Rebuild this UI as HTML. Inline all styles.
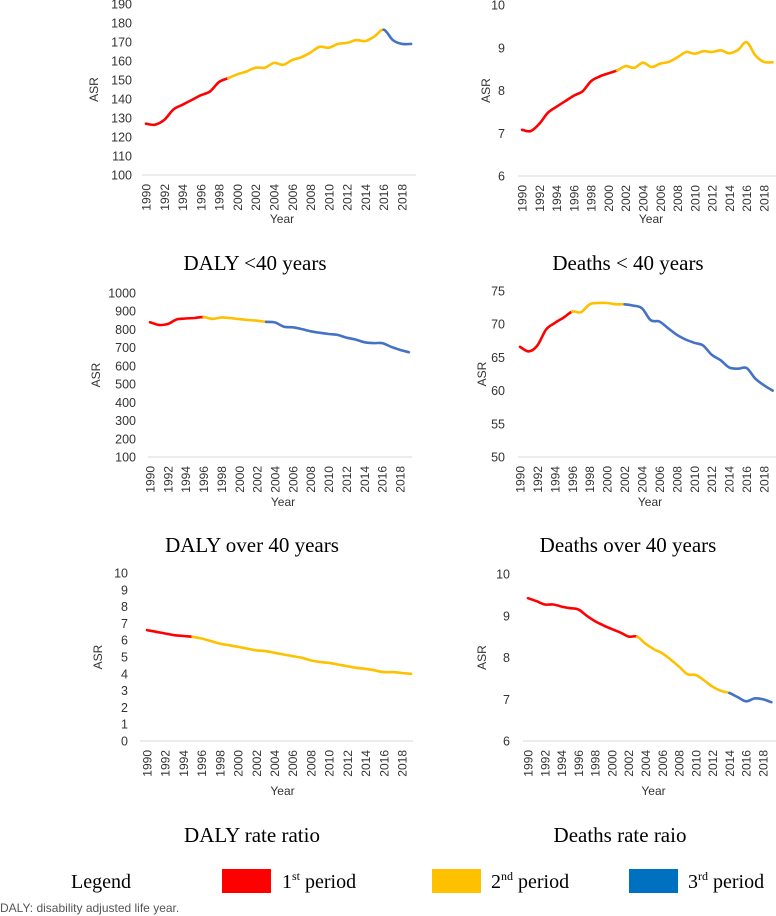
<!DOCTYPE html>
<html><head><meta charset="utf-8"><style>
html,body{margin:0;padding:0;background:#fff;width:776px;height:916px;overflow:hidden}
svg{display:block}
</style></head><body>
<svg id="fig" width="776" height="916" viewBox="0 0 776 916" xmlns="http://www.w3.org/2000/svg" font-family="Liberation Sans, sans-serif">
<g id="panels"></g>
<g font-family="Liberation Serif, serif" font-size="20" fill="#000">
<text x="71" y="888">Legend</text>
<rect x="222" y="869" width="49" height="24" fill="#ff0000"/>
<text x="282" y="888">1<tspan font-size="12" dy="-8">st</tspan><tspan dy="8"> period</tspan></text>
<rect x="432" y="869" width="49" height="24" fill="#ffc000"/>
<text x="491" y="888">2<tspan font-size="12" dy="-8">nd</tspan><tspan dy="8"> period</tspan></text>
<rect x="629" y="869" width="49" height="24" fill="#0070c0"/>
<text x="688" y="888">3<tspan font-size="12" dy="-8">rd</tspan><tspan dy="8"> period</tspan></text>
</g>
<text x="0" y="912" font-size="12" fill="#555">DALY: disability adjusted life year.</text>
</svg>
<script>
const years=[1990,1991,1992,1993,1994,1995,1996,1997,1998,1999,2000,2001,2002,2003,2004,2005,2006,2007,2008,2009,2010,2011,2012,2013,2014,2015,2016,2017,2018,2019];
const tickYears=[1990,1992,1994,1996,1998,2000,2002,2004,2006,2008,2010,2012,2014,2016,2018];
const dalyU40=[127,126.5,129,134.5,137,139.5,142,144,149,151,153,154.5,156.5,156.5,159,158,160.5,162,164.5,167.5,167,169,169.5,171,170.5,173,176.5,171,169,169];
const dalyU40Ticks=[100,110,120,130,140,150,160,170,180,190];
const dalyU40Breaks=[1999,2016];
const deathsU40=[7.08,7.05,7.22,7.48,7.62,7.75,7.88,7.98,8.22,8.33,8.4,8.47,8.57,8.53,8.65,8.55,8.63,8.67,8.78,8.9,8.86,8.92,8.9,8.94,8.87,8.95,9.13,8.82,8.67,8.66];
const deathsU40Ticks=[6,7,8,9,10];
const deathsU40Breaks=[2001];
const dalyO40=[840,825,830,855,860,863,868,858,866,862,857,852,848,842,838,815,812,802,790,782,775,770,755,745,730,725,725,705,688,675];
const dalyO40Ticks=[100,200,300,400,500,600,700,800,900,1000];
const dalyO40Breaks=[1996,2003];
const deathsO40=[66.6,65.9,66.8,69.2,70.2,71.0,71.9,71.8,73.0,73.2,73.2,73.0,73.0,72.8,72.4,70.6,70.4,69.4,68.4,67.7,67.2,66.8,65.4,64.6,63.5,63.3,63.4,61.8,60.8,60.0];
const deathsO40Ticks=[50,55,60,65,70,75];
const deathsO40Breaks=[1996,2002];
const dalyRatio=[6.6,6.5,6.4,6.3,6.25,6.2,6.1,5.95,5.8,5.7,5.6,5.5,5.4,5.35,5.25,5.15,5.05,4.95,4.8,4.7,4.65,4.55,4.45,4.35,4.3,4.2,4.1,4.1,4.05,4.0];
const dalyRatioTicks=[0,1,2,3,4,5,6,7,8,9,10];
const dalyRatioBreaks=[1995];
const deathsRatio=[9.42,9.35,9.27,9.27,9.22,9.18,9.15,9.0,8.87,8.77,8.68,8.6,8.5,8.5,8.33,8.2,8.1,7.95,7.78,7.6,7.58,7.45,7.3,7.2,7.15,7.05,6.95,7.02,7.0,6.93];
const deathsRatioTicks=[6,7,8,9,10];
const deathsRatioBreaks=[2003,2014];

const colors=['#ff0000','#ffc000','#4472c4'];
const NS='http://www.w3.org/2000/svg';
const root=document.getElementById('panels');
function mk(tag,attrs,parent){const e=document.createElementNS(NS,tag);for(const k in attrs)e.setAttribute(k,attrs[k]);parent.appendChild(e);return e;}

function panel(name,title,vals,ticks,breaks,g){
  const grp=mk('g',{},root);
  
  
  const ymin=ticks[0],ymax=ticks[ticks.length-1];
  const xs=y=>g.x0+(y-1990)*(g.x1-g.x0)/28;
  const ys=v=>g.yb+(v-ymin)*(g.yt-g.yb)/(ymax-ymin);
  const ax=mk('line',{x1:g.ax0,x2:g.ax1,y1:g.yb,y2:g.yb,stroke:'#d9d9d9','stroke-width':1},grp);
  
  
  ticks.forEach(t=>{
    const tx=mk('text',{x:g.lx,y:ys(t)+4.5,'text-anchor':'end','font-size':12.5,fill:'#333'},grp);
    tx.textContent=t;
    
    
  });
  tickYears.forEach(yr=>{
    const x=xs(yr)+4.5,y=g.yb+9;
    const tx=mk('text',{x:x,y:y,transform:'rotate(-90 '+x+' '+y+')','text-anchor':'end','font-size':12,fill:'#333'},grp);
    tx.textContent=yr;
    
    
  });
  const cy=(g.yt+g.yb)/2;
  const at=mk('text',{x:g.ax,y:cy,transform:'rotate(-90 '+g.ax+' '+cy+')','text-anchor':'middle','font-size':12,fill:'#333'},grp);
  at.textContent='ASR';
  
  
  const xt=mk('text',{x:(g.x0+g.x1)/2+8,y:g.yl,'text-anchor':'middle','font-size':12,fill:'#333'},grp);
  xt.textContent='Year';
  
  
  const tt=mk('text',{x:g.tc,y:g.ty,'text-anchor':'middle','font-size':21,'font-family':'Liberation Serif, serif',fill:'#000'},grp);
  tt.textContent=title;
  
  
  const pts=years.map((yr,i)=>[xs(yr),ys(vals[i])]);
  const bidx=[0].concat(breaks.map(b=>years.indexOf(b)),[years.length-1]);
  for(let s=0;s<bidx.length-1;s++){
    let d='';
    for(let i=bidx[s];i<bidx[s+1];i++){
      const p0=pts[Math.max(i-1,0)],p1=pts[i],p2=pts[i+1],p3=pts[Math.min(i+2,pts.length-1)];
      if(i===bidx[s])d+='M'+p1[0].toFixed(1)+','+p1[1].toFixed(1);
      const c1=[p1[0]+(p2[0]-p0[0])/6,p1[1]+(p2[1]-p0[1])/6];
      const c2=[p2[0]-(p3[0]-p1[0])/6,p2[1]-(p3[1]-p1[1])/6];
      d+='C'+c1[0].toFixed(1)+','+c1[1].toFixed(1)+' '+c2[0].toFixed(1)+','+c2[1].toFixed(1)+' '+p2[0].toFixed(1)+','+p2[1].toFixed(1);
    }
    const path=mk('path',{d:d,fill:'none',stroke:colors[s],'stroke-width':2.6,'stroke-linecap':'round'},grp);
    
    
  }
}
panel('daly-under-40','DALY <40 years',dalyU40,dalyU40Ticks,dalyU40Breaks,{x0:146,x1:402,yt:4,yb:175,ax0:142,ax1:416,lx:132,ax:98,yl:223,tc:255,ty:270});
panel('deaths-under-40','Deaths < 40 years',deathsU40,deathsU40Ticks,deathsU40Breaks,{x0:522,x1:764,yt:5,yb:176,ax0:518,ax1:776,lx:505,ax:490,yl:223,tc:628,ty:270});
panel('daly-over-40','DALY over 40 years',dalyO40,dalyO40Ticks,dalyO40Breaks,{x0:150,x1:400,yt:293,yb:457,ax0:148,ax1:412,lx:136,ax:100,yl:506,tc:252,ty:552});
panel('deaths-over-40','Deaths over 40 years',deathsO40,deathsO40Ticks,deathsO40Breaks,{x0:520,x1:764,yt:291,yb:457,ax0:518,ax1:776,lx:505,ax:486,yl:506,tc:628,ty:552});
panel('daly-rate-ratio','DALY rate ratio',dalyRatio,dalyRatioTicks,dalyRatioBreaks,{x0:147,x1:402,yt:573,yb:741,ax0:140,ax1:413,lx:128,ax:102,yl:795,tc:252,ty:842});
panel('deaths-rate-ratio','Deaths rate raio',deathsRatio,deathsRatioTicks,deathsRatioBreaks,{x0:528,x1:763,yt:574,yb:741,ax0:523,ax1:776,lx:510,ax:486,yl:795,tc:620,ty:842});
</script>
</body></html>
